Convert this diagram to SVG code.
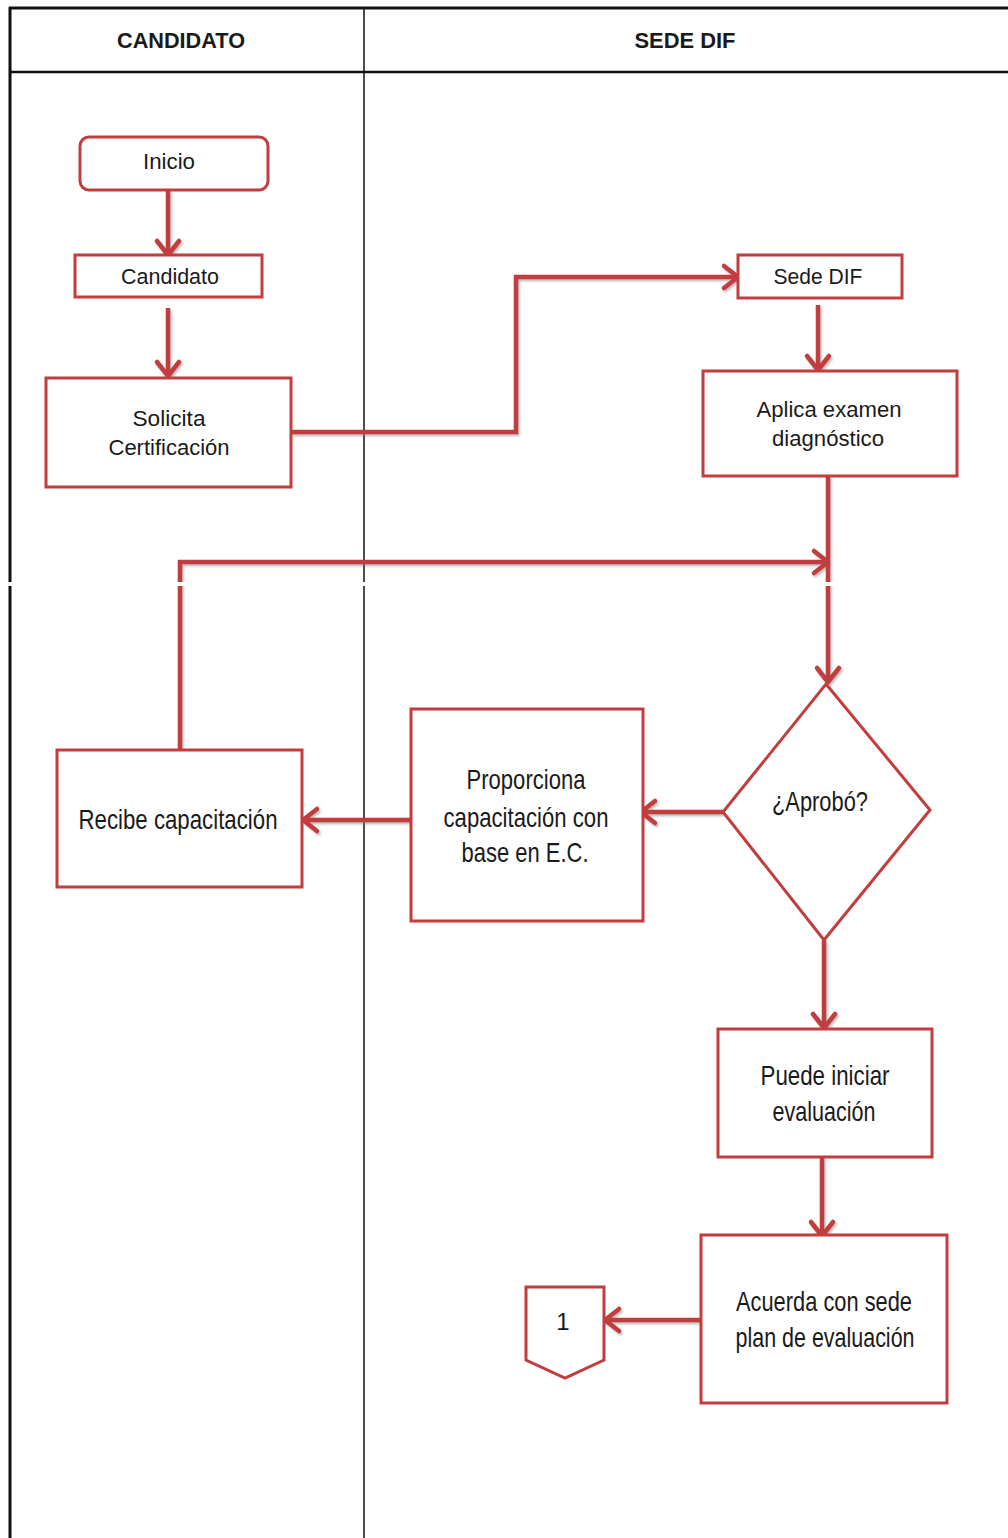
<svg xmlns="http://www.w3.org/2000/svg" width="1008" height="1538" viewBox="0 0 1008 1538">
<style>
.box{fill:#fff;stroke:#c23d3d;stroke-width:3}
.con{fill:none;stroke:#c23d3d;stroke-width:4.5;stroke-linejoin:miter}
.t{font-family:"Liberation Sans",Arial,sans-serif;fill:#1a1a1a;text-anchor:middle;dominant-baseline:central}
.s{font-size:22px}
.b{font-size:28px}
.h{font-size:22px;font-weight:bold}
.lane{stroke:#111;fill:none}
</style>
<defs>
<marker id="ah" markerUnits="userSpaceOnUse" markerWidth="30" markerHeight="30" viewBox="0 0 30 30" refX="26" refY="15" orient="auto">
<path d="M12,4 L26,15 L12,26" fill="none" stroke="#c23d3d" stroke-width="4.5" stroke-linecap="round" stroke-linejoin="round"/>
</marker>
<filter id="sh" x="-10%" y="-10%" width="120%" height="120%">
<feDropShadow dx="1.5" dy="2" stdDeviation="1.2" flood-color="#777" flood-opacity="0.5"/>
</filter>
</defs>
<rect width="1008" height="1538" fill="#fff"/>
<g id="lanes">
<line class="lane" x1="9" y1="8" x2="1008" y2="8" stroke-width="3"/>
<line class="lane" x1="10" y1="7" x2="10" y2="1538" stroke-width="3"/>
<line class="lane" x1="10" y1="72" x2="1008" y2="72" stroke-width="2.5" stroke="#333"/>
<line class="lane" x1="364" y1="8" x2="364" y2="1538" stroke-width="1.5"/>
<text class="t h" x="181" y="40" textLength="128" lengthAdjust="spacingAndGlyphs">CANDIDATO</text>
<text class="t h" x="685" y="40" textLength="101" lengthAdjust="spacingAndGlyphs">SEDE DIF</text>
</g>
<g id="connectors" filter="url(#sh)">
<path class="con" d="M168,190 L168,255" marker-end="url(#ah)"/>
<path class="con" d="M168,308 L168,376" marker-end="url(#ah)"/>
<path class="con" d="M291,432 L516,432 L516,277 L738,277" marker-end="url(#ah)"/>
<path class="con" d="M818,305 L818,370" marker-end="url(#ah)"/>
<path class="con" d="M828,476 L828,682" marker-end="url(#ah)"/>
<path class="con" d="M723,812 L641,812" marker-end="url(#ah)"/>
<path class="con" d="M411,820 L303,820" marker-end="url(#ah)"/>
<path class="con" d="M180,750 L180,562 L828,562" marker-end="url(#ah)"/>
<path class="con" d="M824,940 L824,1028" marker-end="url(#ah)"/>
<path class="con" d="M822,1157 L822,1236" marker-end="url(#ah)"/>
<path class="con" d="M701,1320 L605,1320" marker-end="url(#ah)"/>
</g>
<rect x="0" y="582" width="1008" height="4" fill="#fff"/>
<g id="inicio">
<rect class="box" x="80" y="137" width="188" height="53" rx="9"/>
<text class="t s" x="169" y="161" textLength="52" lengthAdjust="spacingAndGlyphs">Inicio</text>
</g>
<g id="candidato">
<rect class="box" x="75" y="255" width="187" height="42"/>
<text class="t s" x="170" y="276" textLength="98" lengthAdjust="spacingAndGlyphs">Candidato</text>
</g>
<g id="solicita">
<rect class="box" x="46" y="378" width="245" height="109"/>
<text class="t s" x="169" y="418" textLength="73" lengthAdjust="spacingAndGlyphs">Solicita</text>
<text class="t s" x="169" y="447" textLength="121" lengthAdjust="spacingAndGlyphs">Certificación</text>
</g>
<g id="sede">
<rect class="box" x="738" y="255" width="164" height="43"/>
<text class="t s" x="818" y="276" textLength="89" lengthAdjust="spacingAndGlyphs">Sede DIF</text>
</g>
<g id="aplica">
<rect class="box" x="703" y="371" width="254" height="105"/>
<text class="t s" x="829" y="409" textLength="145" lengthAdjust="spacingAndGlyphs">Aplica examen</text>
<text class="t s" x="828" y="438" textLength="112" lengthAdjust="spacingAndGlyphs">diagnóstico</text>
</g>
<g id="aprobo">
<polygon class="box" points="826,684 930,810 824,940 723,812"/>
<text class="t b" x="820" y="801" textLength="96" lengthAdjust="spacingAndGlyphs">¿Aprobó?</text>
</g>
<g id="proporciona">
<rect class="box" x="411" y="709" width="232" height="212"/>
<text class="t b" x="526" y="779" textLength="119" lengthAdjust="spacingAndGlyphs">Proporciona</text>
<text class="t b" x="526" y="817" textLength="165" lengthAdjust="spacingAndGlyphs">capacitación con</text>
<text class="t b" x="525" y="852" textLength="127" lengthAdjust="spacingAndGlyphs">base en E.C.</text>
</g>
<g id="recibe">
<rect class="box" x="57" y="750" width="245" height="137"/>
<text class="t b" x="178" y="819" textLength="199" lengthAdjust="spacingAndGlyphs">Recibe capacitación</text>
</g>
<g id="puede">
<rect class="box" x="718" y="1029" width="214" height="128"/>
<text class="t b" x="825" y="1075" textLength="129" lengthAdjust="spacingAndGlyphs">Puede iniciar</text>
<text class="t b" x="824" y="1111" textLength="103" lengthAdjust="spacingAndGlyphs">evaluación</text>
</g>
<g id="acuerda">
<rect class="box" x="701" y="1235" width="246" height="168"/>
<text class="t b" x="824" y="1301" textLength="176" lengthAdjust="spacingAndGlyphs">Acuerda con sede</text>
<text class="t b" x="825" y="1337" textLength="179" lengthAdjust="spacingAndGlyphs">plan de evaluación</text>
</g>
<g id="conector1">
<polygon class="box" points="526,1287 604,1287 604,1360 565,1378 526,1360"/>
<text class="t" x="563" y="1321" style="font-size:24px">1</text>
</g>
</svg>
